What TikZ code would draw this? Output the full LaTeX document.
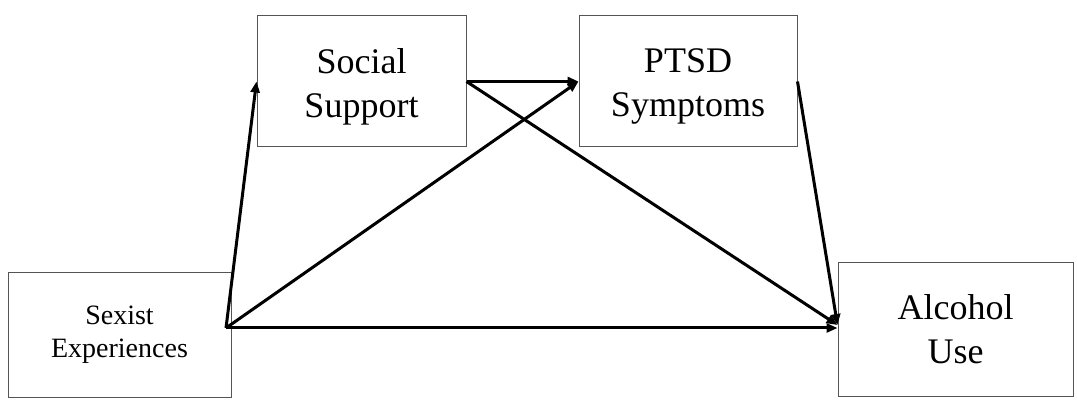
\documentclass[tikz,border=0pt]{standalone}
\usepackage{fontspec}
\setmainfont{Liberation Serif}
\usetikzlibrary{arrows.meta,positioning}
\definecolor{BoxLine}{RGB}{85,85,85}

\begin{document}
\begin{tikzpicture}[x=1pt, y=1pt,
    box/.style={draw=BoxLine, line width=1pt, inner sep=0pt, align=center,
                font=\fontsize{36}{44}\selectfont},
    smallbox/.style={box, font=\fontsize{28}{33}\selectfont},
    lowtext/.style={label={[align=center, font=\fontsize{36}{44}\selectfont, yshift=-5pt]center:#1}},
    arr/.style={-{Triangle[length=11pt, width=9pt]}, line width=3pt}
]
    \useasboundingbox (0,0) rectangle (1077,402);
    \node[smallbox, minimum width=223pt, minimum height=124pt] (sexist) at (119.5,67) {Sexist\\Experiences};
    \node[box, minimum width=209pt, minimum height=131pt, lowtext={Social\\Support}] (social) at (361.5,320.5) {};
    \node[box, minimum width=218pt, minimum height=131pt, right=112pt of social, lowtext={PTSD\\Symptoms}] (ptsd) {};
    \node[box, minimum width=235pt, minimum height=133pt] (alcohol) at (955.5,72.5) {Alcohol\\Use};
    \coordinate (fork) at (226,74);
    \coordinate (sink) at ([yshift=4.5pt]alcohol.west);
    \draw[arr] (fork) -- (social.west);
    \draw[arr] (fork) -- (ptsd.west);
    \draw[arr] (fork) -- (fork -| alcohol.west);
    \draw[arr] (social.east) -- (ptsd.west);
    \draw[arr] (social.east) -- (sink);
    \draw[arr] (ptsd.east) -- (sink);
\end{tikzpicture}
\end{document}
